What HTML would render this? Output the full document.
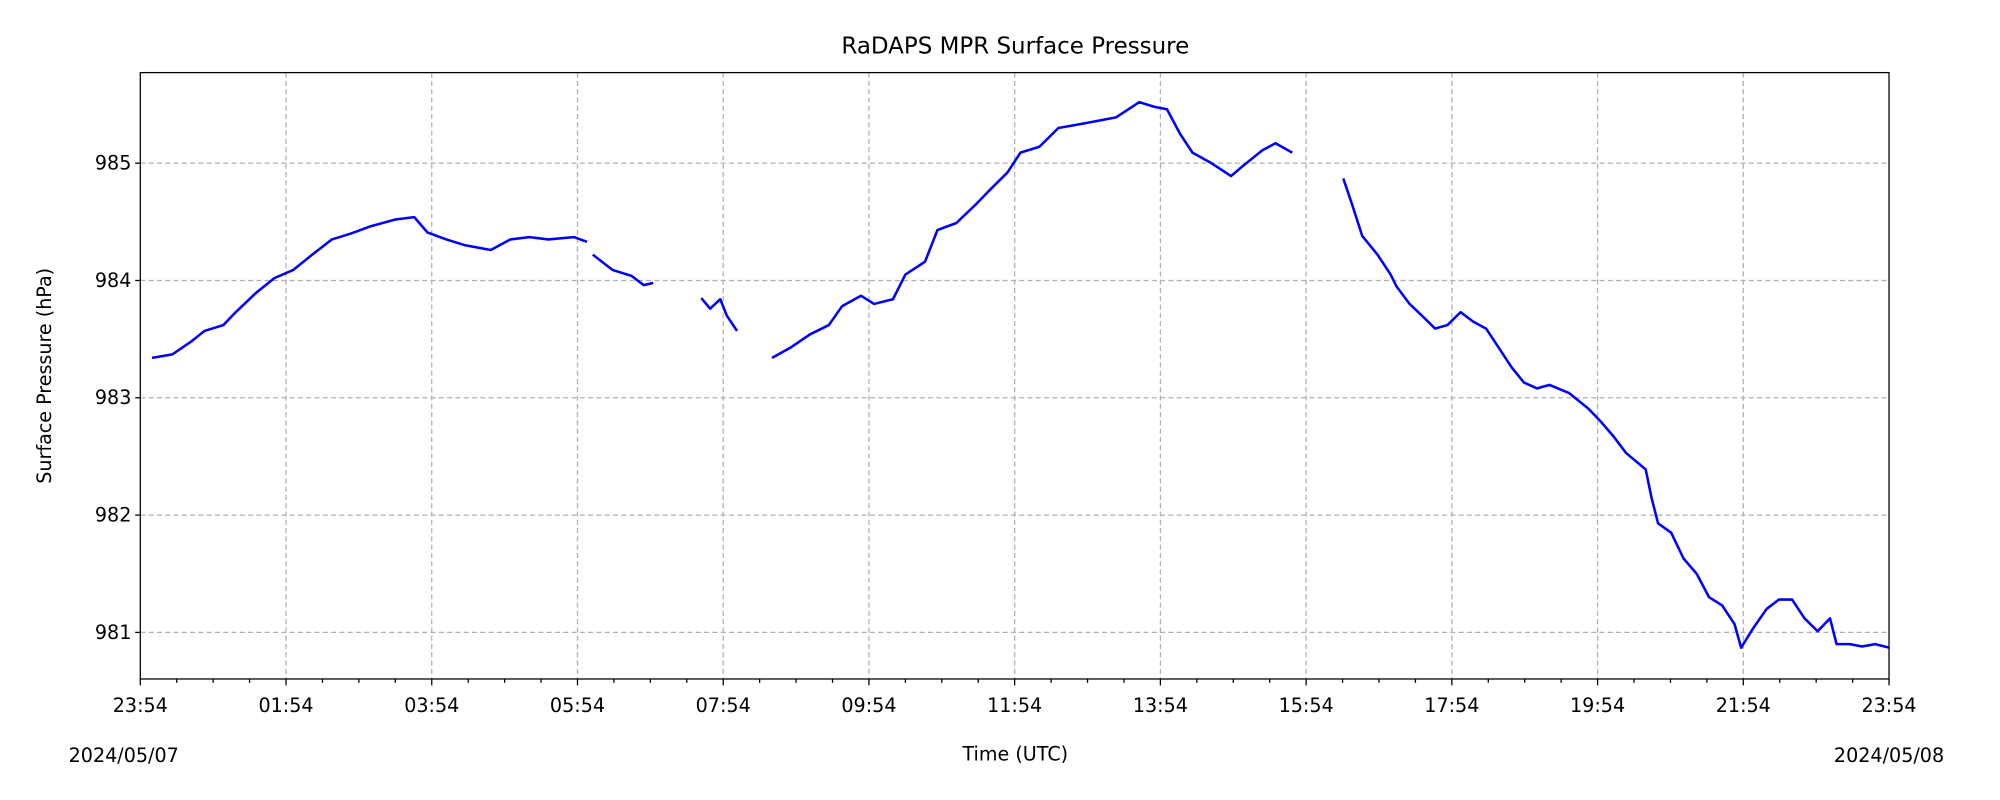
<!DOCTYPE html>
<html><head><meta charset="utf-8"><style>
html,body{margin:0;padding:0;background:#fff;}
svg{display:block;}
text{font-family:"DejaVu Sans","Liberation Sans",sans-serif;fill:#000;}
</style></head><body>
<svg id="chart" width="2000" height="800" viewBox="0 0 1568 628" preserveAspectRatio="none" xmlns="http://www.w3.org/2000/svg">
<rect width="1568" height="628" fill="#fff"/>
<g id="grid"></g>
<g id="series"></g>
<rect x="110" y="57" width="1371" height="476" fill="none" stroke="#000" stroke-width="1"/>
<g id="axes"></g>
<text x="796" y="42" font-size="18" text-anchor="middle">RaDAPS MPR Surface Pressure</text>
<text x="796" y="597" font-size="15" text-anchor="middle">Time (UTC)</text>
<text transform="translate(40,295) rotate(-90)" font-size="15" text-anchor="middle">Surface Pressure (hPa)</text>
<text x="97" y="598" font-size="15" text-anchor="middle">2024/05/07</text>
<text x="1481" y="598" font-size="15" text-anchor="middle">2024/05/08</text>
</svg>
<script>
const hours = [0.16,0.44,0.70,0.88,1.14,1.31,1.58,1.84,2.10,2.36,2.63,2.89,3.15,3.50,3.76,3.94,4.20,4.46,4.81,5.08,5.34,5.60,5.95,6.13,null,
6.21,6.48,6.74,6.91,7.04,null,
7.70,7.82,7.96,8.05,8.19,null,
8.67,8.93,9.19,9.45,9.63,9.89,10.07,10.33,10.50,10.77,10.94,11.20,11.47,11.64,11.90,12.08,12.34,12.60,12.87,13.13,13.39,13.71,13.92,14.09,14.27,14.44,14.70,14.97,15.14,15.40,15.58,15.81,null,
16.51,16.63,16.77,16.98,17.16,17.24,17.42,17.59,17.77,17.94,18.12,18.29,18.47,18.64,18.82,18.99,19.17,19.34,19.61,19.87,20.04,20.22,20.39,20.66,20.74,20.83,21.01,21.18,21.36,21.53,21.71,21.88,21.97,22.14,22.32,22.49,22.67,22.84,23.02,23.19,23.28,23.46,23.63,23.81,24.0];
const pressure = [983.34,983.37,983.48,983.57,983.62,983.73,983.89,984.02,984.09,984.22,984.35,984.40,984.46,984.52,984.54,984.41,984.35,984.30,984.26,984.35,984.37,984.35,984.37,984.33,null,
984.22,984.09,984.04,983.96,983.98,null,
983.85,983.76,983.84,983.70,983.57,null,
983.34,983.43,983.54,983.62,983.78,983.87,983.80,983.84,984.05,984.16,984.43,984.49,984.65,984.76,984.92,985.09,985.14,985.30,985.33,985.36,985.39,985.52,985.48,985.46,985.25,985.09,985.00,984.89,984.98,985.11,985.17,985.09,null,
984.87,984.65,984.38,984.22,984.05,983.95,983.80,983.70,983.59,983.62,983.73,983.65,983.59,983.43,983.26,983.13,983.08,983.11,983.04,982.91,982.80,982.67,982.53,982.39,982.15,981.93,981.85,981.63,981.50,981.30,981.23,981.07,980.87,981.04,981.20,981.28,981.28,981.12,981.01,981.12,980.90,980.90,980.88,980.90,980.87];
const yTicks = [981,982,983,984,985];
const xTickHours = [0,2,4,6,8,10,12,14,16,18,20,22,24];
const xTickLabels = ["23:54","01:54","03:54","05:54","07:54","09:54","11:54","13:54","15:54","17:54","19:54","21:54","23:54"];

const L=110,R=1481,T=57,B=533, yMin=980.603, yMax=985.772;
const xs = h => L + (R-L)*h/24;
const ys = v => B - (B-T)*(v-yMin)/(yMax-yMin);
const NS="http://www.w3.org/2000/svg";
function mk(tag, attrs, parent){const e=document.createElementNS(NS,tag);for(const k in attrs)e.setAttribute(k,attrs[k]);parent.appendChild(e);return e;}
const grid=document.getElementById('grid'), axes=document.getElementById('axes'), series=document.getElementById('series');

yTicks.forEach(v=>{
  const y=ys(v);
  const g=mk('line',{x1:L,x2:R,y1:y,y2:y,stroke:'#b0b0b0','stroke-width':1,'stroke-dasharray':'4,2.5'},grid);
  
  
  const t=mk('line',{x1:L-4,x2:L,y1:y,y2:y,stroke:'#000'},axes);
  
  
  const lb=mk('text',{x:L-7,y:y+5,'font-size':15,'text-anchor':'end'},axes);
  lb.textContent=String(v);
  
  
});
xTickHours.forEach((h,i)=>{
  const x=xs(h);
  if(i>0&&i<xTickHours.length-1){
    const g=mk('line',{x1:x,x2:x,y1:T,y2:B,stroke:'#b0b0b0','stroke-width':1,'stroke-dasharray':'4,2.5'},grid);
    
    
  }
  const t=mk('line',{x1:x,x2:x,y1:B,y2:B+5,stroke:'#000'},axes);
  
  
  const lb=mk('text',{x:x,y:B+26,'font-size':15,'text-anchor':'middle'},axes);
  lb.textContent=xTickLabels[i];
  
  
});
for(let m=0.5;m<24;m+=0.5){
  if(Math.abs(m/2-Math.round(m/2))<1e-6) continue;
  const x=xs(m);
  const t=mk('line',{x1:x,x2:x,y1:B,y2:B+3,stroke:'#000'},axes);
  
  
}
let d='', pen=false;
for(let i=0;i<hours.length;i++){
  if(hours[i]===null||pressure[i]===null){pen=false;continue;}
  d+=(pen?'L':'M')+xs(hours[i]).toFixed(2)+','+ys(pressure[i]).toFixed(2);
  pen=true;
}
const p=mk('path',{d:d,fill:'none',stroke:'#0000ff','stroke-width':2,'stroke-linejoin':'round'},series);


</script>
</body></html>
